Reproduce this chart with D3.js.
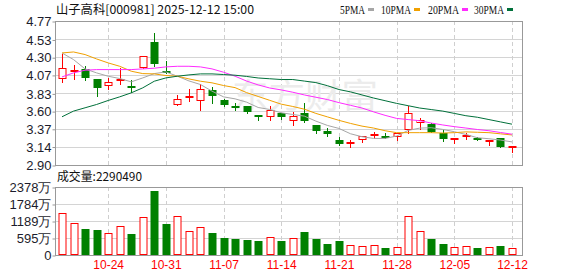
<!DOCTYPE html>
<html>
<head>
<meta charset="utf-8">
<title>山子高科 日K</title>
<style>
 html, body { margin: 0; padding: 0; background: #fff; }
 svg { display: block; }
 .lbl { font-family: "Liberation Sans", Arial, sans-serif; font-size: 13px; fill: #1c1c2c; }
 .xl { font-family: "Liberation Sans", Arial, sans-serif; font-size: 12px; fill: #ff0000; }
 .grid { stroke: #d4d4d4; stroke-width: 1; }
 .vgrid { stroke: #cfcfcf; stroke-width: 1; stroke-dasharray: 4,3; }
 .frame { fill: none; stroke: #999; stroke-width: 1; }
 .ma { fill: none; stroke-width: 1; }
</style>
</head>
<body>
<div id="chart"></div>
<script src="https://d3js.org/d3.v7.min.js"></script>
<script>
// trading days shown (2025)
var dates = ["10-20","10-21","10-22","10-23","10-24","10-27","10-28","10-29","10-30","10-31",
  "11-03","11-04","11-05","11-06","11-07","11-10","11-11","11-12","11-13","11-14",
  "11-17","11-18","11-19","11-20","11-21","11-24","11-25","11-26","11-27","11-28",
  "12-01","12-02","12-03","12-04","12-05","12-08","12-09","12-10","12-11","12-12"];

var opens  = [4.02,4.11,4.15,4.02,3.92,3.99,3.93,4.16,4.50,4.12,
  3.68,3.77,3.73,3.88,3.75,3.66,3.66,3.55,3.52,3.57,
  3.47,3.57,3.42,3.34,3.23,3.18,3.22,3.29,3.28,3.26,
  3.35,3.45,3.43,3.32,3.22,3.28,3.25,3.22,3.25,3.13];
var highs  = [4.34,4.20,4.19,4.02,4.03,4.16,4.00,4.31,4.62,4.25,
  3.81,3.89,3.95,3.91,3.76,3.70,3.66,3.55,3.66,3.57,
  3.59,3.70,3.42,3.38,3.27,3.22,3.28,3.33,3.32,3.31,
  3.67,3.51,3.45,3.35,3.25,3.32,3.27,3.23,3.25,3.15];
var lows   = [3.98,4.02,4.00,3.79,3.89,3.95,3.85,4.16,4.18,4.09,
  3.68,3.73,3.61,3.71,3.66,3.61,3.57,3.48,3.49,3.50,
  3.42,3.46,3.32,3.28,3.16,3.13,3.20,3.25,3.25,3.22,
  3.32,3.37,3.33,3.21,3.18,3.24,3.22,3.16,3.13,3.07];
var closes = [4.16,4.13,4.03,3.90,3.98,4.02,3.92,4.31,4.21,4.10,
  3.76,3.80,3.89,3.79,3.68,3.65,3.59,3.54,3.62,3.52,
  3.53,3.47,3.34,3.30,3.17,3.20,3.28,3.30,3.25,3.31,
  3.57,3.48,3.33,3.24,3.25,3.29,3.23,3.23,3.13,3.15];

// volume in 万 (10k shares)
var volumes = [1469,1130,920,885,770,1014,746,1329,2249,1096,
  1376,839,979,781,606,560,525,501,630,501,
  595,816,560,396,501,350,315,338,245,280,
  1364,851,560,385,280,315,245,280,327,229];
var lastVolume = 2290490;

var ma5  = [4.355,4.269,4.148,4.096,4.053,4.023,3.980,4.031,4.087,4.109,
  4.053,3.992,3.945,3.859,3.785,3.759,3.716,3.647,3.621,3.578,
  3.556,3.535,3.470,3.414,3.375,3.306,3.267,3.245,3.245,3.276,
  3.349,3.379,3.384,3.362,3.332,3.297,3.254,3.241,3.224,3.200];
var ma10 = [4.355,4.368,4.334,4.277,4.226,4.182,4.118,4.087,4.083,4.062,
  4.053,4.018,3.988,3.967,3.932,3.905,3.84,3.79,3.74,3.69,
  3.66,3.625,3.57,3.525,3.48,3.44,3.405,3.38,3.345,3.32,
  3.32,3.32,3.32,3.315,3.32,3.33,3.325,3.32,3.305,3.29];
var ma20 = [4.044,4.096,4.131,4.139,4.139,4.139,4.139,4.148,4.157,4.174,
  4.182,4.182,4.174,4.148,4.105,4.053,3.99,3.94,3.90,3.875,
  3.845,3.81,3.78,3.75,3.71,3.675,3.64,3.59,3.545,3.505,
  3.49,3.475,3.445,3.42,3.398,3.38,3.361,3.345,3.322,3.30];
var ma30 = [3.526,3.600,3.643,3.686,3.738,3.785,3.837,3.902,3.988,4.031,
  4.053,4.070,4.083,4.083,4.075,4.066,4.05,4.03,4.02,4.01,
  4.01,3.99,3.97,3.93,3.88,3.85,3.81,3.77,3.735,3.70,
  3.67,3.64,3.62,3.60,3.57,3.54,3.52,3.49,3.46,3.43];

var priceTicks = [2.90,3.14,3.37,3.60,3.83,4.07,4.30,4.53,4.77];
var volTicks = [0,595,1189,1784,2378];
var xTicks = ["10-24","10-31","11-07","11-14","11-21","11-28","12-05","12-12"];

var maNames = ["5PMA","10PMA","20PMA","30PMA"];
var maColors = ["#a6a6a6","#f0a000","#ff2bff","#00703a"];
var upColor = "#ff0000", downColor = "#008000";

var width = 578, height = 276;
var left = 55, right = 522;
var pTop = 21, pBottom = 165, vTop = 187, vBottom = 255;

var svg = d3.select("#chart").append("svg")
  .attr("width", width)
  .attr("height", height);

svg.append("rect").attr("width", width).attr("height", height).attr("fill", "#fff");

var x = d3.scalePoint().domain(dates).range([62, 512]);
var y = d3.scaleLinear().domain([2.90, 4.77]).range([pBottom, pTop]);
var yv = d3.scaleLinear().domain([0, 2378]).range([vBottom, vTop]);

function px(d) { return Math.round(x(d)) + 0.5; }

// title + legend
svg.append("text")
  .attr("x", 56).attr("y", 14)
  .attr("textLength", 198).attr("lengthAdjust", "spacingAndGlyphs")
  .style("font-family", "'Noto Sans CJK SC', sans-serif")
  .style("font-size", "12px")
  .attr("fill", "#111")
  .text("山子高科[000981] 2025-12-12 15:00");

var legX = [340, 381, 428, 474];
var legW = [25, 30, 31, 30];
maNames.forEach(function(name, i) {
  svg.append("text")
    .attr("x", legX[i]).attr("y", 14)
    .attr("textLength", legW[i]).attr("lengthAdjust", "spacingAndGlyphs")
    .style("font-family", "'Liberation Serif', serif")
    .style("font-size", "12px")
    .attr("fill", "#111")
    .text(name);
  svg.append("rect")
    .attr("x", legX[i] + legW[i] + 3).attr("y", 8)
    .attr("width", 6).attr("height", 3)
    .attr("fill", maColors[i]);
});

// ---- price panel ----
svg.selectAll(".hgrid")
  .data(priceTicks.slice(1, -1))
  .enter().append("line")
  .attr("class", "grid")
  .attr("x1", left).attr("x2", right)
  .attr("y1", function(d) { return Math.round(y(d)) + 0.5; })
  .attr("y2", function(d) { return Math.round(y(d)) + 0.5; });

svg.selectAll(".pv")
  .data(xTicks)
  .enter().append("line")
  .attr("class", "vgrid")
  .attr("x1", px).attr("x2", px)
  .attr("y1", pTop).attr("y2", pBottom);

// watermark
svg.append("text")
  .attr("x", 232).attr("y", 108)
  .attr("textLength", 146).attr("lengthAdjust", "spacingAndGlyphs")
  .style("font-family", "'Noto Sans CJK SC', sans-serif")
  .style("font-size", "34px")
  .attr("fill", "#ececec")
  .text("东方财富");

var candles = dates.map(function(d, i) {
  return { date: d, o: opens[i], h: highs[i], l: lows[i], c: closes[i], v: volumes[i] };
});

var cg = svg.append("g");
candles.forEach(function(d) {
  var cx = px(d.date);
  var up = d.c >= d.o;
  var col = up ? upColor : downColor;
  var top = Math.round(y(Math.max(d.o, d.c)));
  var bot = Math.round(y(Math.min(d.o, d.c)));
  if (bot - top < 2) bot = top + 2;
  cg.append("line")
    .attr("x1", cx).attr("x2", cx)
    .attr("y1", Math.round(y(d.h))).attr("y2", Math.round(y(d.l)) + 1)
    .attr("stroke", col);
  if (up) {
    cg.append("rect")
      .attr("x", cx - 3.5).attr("y", top + 0.5)
      .attr("width", 7).attr("height", Math.max(1, bot - top - 1))
      .attr("fill", "#fff").attr("stroke", col);
  } else {
    cg.append("rect")
      .attr("x", cx - 4).attr("y", top)
      .attr("width", 8).attr("height", bot - top)
      .attr("fill", col);
  }
});

// moving averages
[ma5, ma10, ma20, ma30].forEach(function(arr, k) {
  var line = d3.line()
    .x(function(v, i) { return x(dates[i]); })
    .y(function(v) { return y(v); });
  svg.append("path")
    .datum(arr)
    .attr("class", "ma")
    .attr("stroke", maColors[k])
    .attr("d", line);
});

svg.append("rect").attr("class", "frame")
  .attr("x", left + 0.5).attr("y", pTop + 0.5)
  .attr("width", right - left).attr("height", pBottom - pTop);

var yAxis = svg.append("g")
  .attr("transform", "translate(" + (left + 0.5) + ",0.5)")
  .call(d3.axisLeft(y).tickValues(priceTicks).tickSize(3).tickPadding(1)
    .tickFormat(function(d) { return d.toFixed(2); }));
yAxis.select(".domain").remove();
yAxis.selectAll("line").attr("stroke", "#999");
yAxis.selectAll("text").attr("class", "lbl").attr("fill", null);
yAxis.attr("font-size", null).attr("font-family", null);

// ---- volume panel ----
svg.append("text")
  .attr("x", 57).attr("y", 181)
  .style("font-family", "'Noto Sans CJK SC', sans-serif")
  .style("font-size", "12px")
  .attr("textLength", 85).attr("lengthAdjust", "spacingAndGlyphs")
  .attr("fill", "#111")
  .text("成交量:" + lastVolume);

svg.selectAll(".vh")
  .data(volTicks.slice(1, -1))
  .enter().append("line")
  .attr("class", "grid")
  .attr("x1", left).attr("x2", right)
  .attr("y1", function(d) { return Math.round(yv(d)) + 0.5; })
  .attr("y2", function(d) { return Math.round(yv(d)) + 0.5; });

svg.selectAll(".vv")
  .data(xTicks)
  .enter().append("line")
  .attr("class", "vgrid")
  .attr("x1", px).attr("x2", px)
  .attr("y1", vTop).attr("y2", vBottom);

var vg = svg.append("g");
candles.forEach(function(d) {
  var cx = px(d.date);
  var up = d.c >= d.o;
  var t = Math.round(yv(d.v));
  if (up) {
    vg.append("rect")
      .attr("x", cx - 3.5).attr("y", t + 0.5)
      .attr("width", 7).attr("height", vBottom - t - 1)
      .attr("fill", "#fff").attr("stroke", upColor);
  } else {
    vg.append("rect")
      .attr("x", cx - 4).attr("y", t)
      .attr("width", 8).attr("height", vBottom - t)
      .attr("fill", downColor);
  }
});

svg.append("rect").attr("class", "frame")
  .attr("x", left + 0.5).attr("y", vTop + 0.5)
  .attr("width", right - left).attr("height", vBottom - vTop);

var vAxis = svg.append("g")
  .attr("transform", "translate(" + (left + 0.5) + ",0.5)")
  .call(d3.axisLeft(yv).tickValues(volTicks).tickSize(3).tickPadding(1)
    .tickFormat(function(d) { return d === 0 ? "0" : d + "万"; }));
vAxis.select(".domain").remove();
vAxis.selectAll("line").attr("stroke", "#999");
vAxis.selectAll("text").attr("class", "lbl").attr("fill", null);
vAxis.attr("font-size", null).attr("font-family", null);

// x axis (dates)
var xAxis = svg.append("g")
  .attr("transform", "translate(0," + vBottom + ")")
  .call(d3.axisBottom(x).tickValues(xTicks).tickSize(0).tickPadding(5));
xAxis.select(".domain").remove();
xAxis.selectAll("text").attr("class", "xl").attr("fill", null).attr("dy", "0.71em");
xAxis.attr("font-size", null).attr("font-family", null);
</script>
</body>
</html>
